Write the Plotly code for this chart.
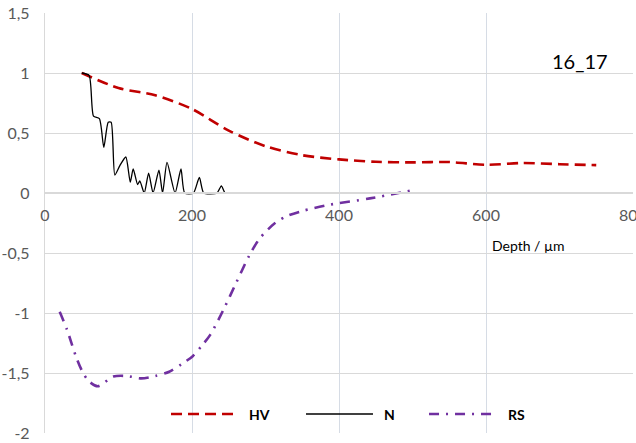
import plotly.graph_objects as go

# ---------------- data ----------------
hv_x = [50, 100, 150, 200, 250, 300, 350, 400, 450, 500, 550, 600, 650, 700, 750]
hv_y = [1.0, 0.875, 0.815, 0.70, 0.52, 0.39, 0.315, 0.28, 0.26, 0.255, 0.258, 0.235, 0.25, 0.24, 0.232]

n_x = [50, 60, 66, 74, 80, 86, 90, 95, 102, 110, 116, 120, 126, 129, 135, 141, 147, 155, 160,
       166, 177, 185, 190, 202, 210, 216, 234, 240, 245, 255]
n_y = [1.0, 0.98, 0.64, 0.62, 0.38, 0.59, 0.59, 0.15, 0.23, 0.30, 0.09, 0.20, 0.07, 0.10, 0.0,
       0.165, 0.0, 0.19, 0.0, 0.255, 0.0, 0.20, 0.0, 0.0, 0.13, 0.0, 0.0, 0.06, 0.0, 0.0]

rs_x = [20, 30, 42, 51, 60, 72, 93, 111, 131, 150, 169, 186, 201, 213, 225, 243, 260, 278, 292,
        313, 330, 350, 385, 442, 502]
rs_y = [-0.99, -1.14, -1.36, -1.49, -1.57, -1.61, -1.53, -1.525, -1.545, -1.525, -1.49, -1.425,
        -1.36, -1.275, -1.18, -0.97, -0.75, -0.52, -0.38, -0.25, -0.19, -0.15, -0.10, -0.045, 0.025]

y_tickvals = [1.5, 1, 0.5, 0, -0.5, -1, -1.5, -2]
y_ticktext = ["1,5", "1", "0,5", "0", "-0,5", "-1", "-1,5", "-2"]
x_tickvals = [0, 200, 400, 600, 800]
x_ticktext = ["0", "200", "400", "600", "800"]

series_names = ["HV", "N", "RS"]
HV_COLOR = "#C00000"
N_COLOR = "#000000"
RS_COLOR = "#7030A0"
HV_DASH = "11px,6px"
RS_DASH = "10px,7px,2px,7px"
FONT = "Lato"

fig = go.Figure()
fig.add_trace(go.Scatter(x=hv_x, y=hv_y, mode="lines", name="HV",
                         line=dict(color=HV_COLOR, width=2.6, dash=HV_DASH, shape="spline", smoothing=0.8)))
fig.add_trace(go.Scatter(x=n_x, y=n_y, mode="lines", name="N",
                         line=dict(color=N_COLOR, width=1.3, shape="spline", smoothing=0.6)))
fig.add_trace(go.Scatter(x=rs_x, y=rs_y, mode="lines", name="RS",
                         line=dict(color=RS_COLOR, width=2.6, dash=RS_DASH, shape="spline", smoothing=0.8)))

y_top, y_bot = 1.5, -2.0
zero_pos = (0 - y_bot) / (y_top - y_bot)

fig.update_layout(
    width=636, height=443,
    margin=dict(l=45, r=3, t=13, b=10, autoexpand=False),
    paper_bgcolor="white", plot_bgcolor="white",
    showlegend=False,
    font=dict(family=FONT, size=16, color="#595959"),
    xaxis=dict(range=[0, 800], tickvals=x_tickvals, ticktext=x_ticktext,
               showgrid=True, gridcolor="#D6DCE5", gridwidth=1.3,
               zeroline=False, showline=True, linecolor="#D9D9D9", linewidth=1.6,
               anchor="free", position=zero_pos, ticks="", ticklabelstandoff=8,
               ticklabeloverflow="allow", automargin=False, fixedrange=True),
    yaxis=dict(range=[y_bot, y_top], tickvals=y_tickvals, ticktext=y_ticktext,
               showgrid=True, gridcolor="#D9D9D9", gridwidth=1.3,
               zeroline=False, showline=True, linecolor="#D9D9D9", linewidth=1.3,
               ticks="", ticklabelstandoff=11, automargin=False, fixedrange=True),
)

# annotations
fig.add_annotation(text="16_17", xref="paper", yref="paper", x=0.9099, y=0.8857,
                   showarrow=False, font=dict(family=FONT, size=20, color="#000000"),
                   xanchor="center", yanchor="middle")
fig.add_annotation(text="Depth / µm", xref="paper", yref="paper", x=0.823, y=0.4476,
                   showarrow=False, font=dict(family=FONT, size=14, color="#000000"),
                   xanchor="center", yanchor="middle")

# manual legend (paper coordinates)
leg_y = 0.0452
leg_items = [
    ("HV", HV_COLOR, 2.6, HV_DASH, 0.2143, 0.3231, 0.3435),
    ("N", N_COLOR, 1.3, "solid", 0.4439, 0.5578, 0.5731),
    ("RS", RS_COLOR, 2.6, RS_DASH, 0.6531, 0.7670, 0.7840),
]
for name, col, w, dash, x0, x1, xt in leg_items:
    fig.add_shape(type="line", xref="paper", yref="paper", x0=x0, x1=x1, y0=leg_y, y1=leg_y,
                  line=dict(color=col, width=w, dash=dash))
    fig.add_annotation(text="<b>" + name + "</b>", xref="paper", yref="paper", x=xt, y=leg_y,
                       showarrow=False, xanchor="left", yanchor="middle",
                       font=dict(family=FONT, size=14, color="#000000"))

fig.write_html("out.html", config={"displayModeBar": False},
               post_script="document.body.style.margin='0px';")
